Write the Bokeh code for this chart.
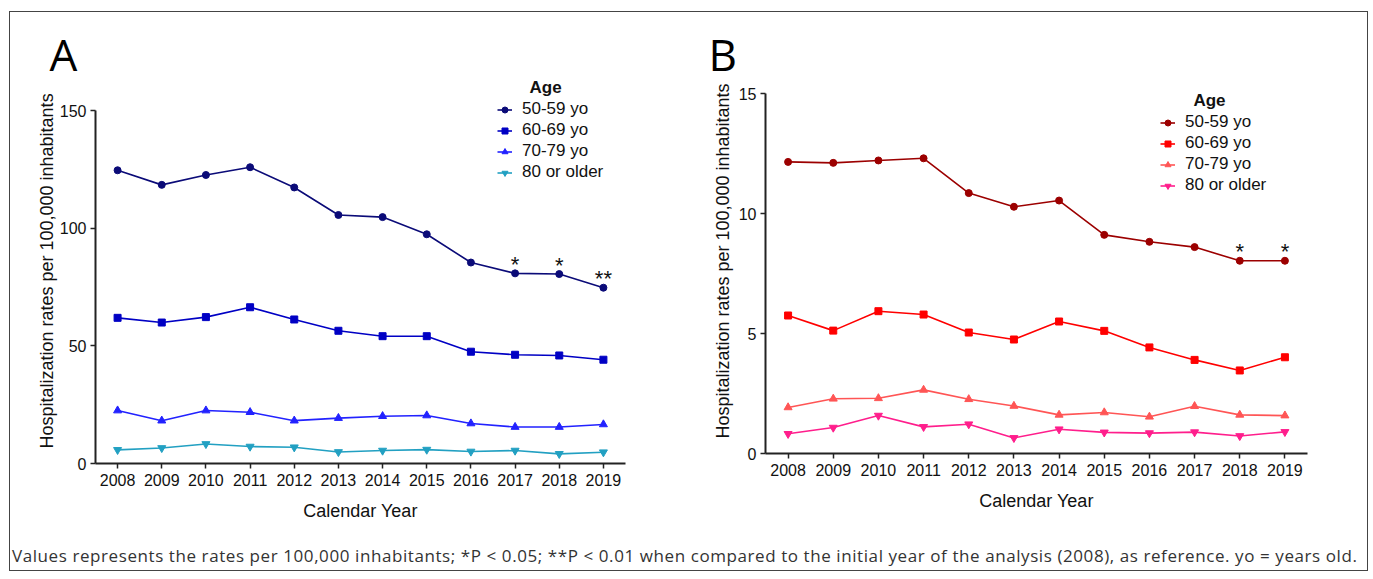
from bokeh.plotting import figure
from bokeh.models import Legend, LegendItem, Label, FixedTicker, Div
from bokeh.layouts import column, row
from bokeh.embed import file_html
from bokeh.resources import INLINE
from bokeh.core.properties import value

years = [2008, 2009, 2010, 2011, 2012, 2013, 2014, 2015, 2016, 2017, 2018, 2019]
groups = ["50-59 yo", "60-69 yo", "70-79 yo", "80 or older"]

a_50_59 = [124.6, 118.4, 122.6, 125.9, 117.3, 105.6, 104.7, 97.4, 85.4, 80.8, 80.5, 74.7]
a_60_69 = [61.9, 59.9, 62.2, 66.4, 61.2, 56.4, 54.1, 54.1, 47.5, 46.2, 45.9, 44.1]
a_70_79 = [22.5, 18.2, 22.5, 21.8, 18.2, 19.3, 20.1, 20.4, 17.0, 15.5, 15.5, 16.6]
a_80_plus = [5.8, 6.6, 8.3, 7.2, 6.9, 4.9, 5.5, 5.9, 5.1, 5.5, 4.1, 4.8]

b_50_59 = [12.15, 12.11, 12.21, 12.30, 10.85, 10.28, 10.54, 9.11, 8.82, 8.60, 8.03, 8.03]
b_60_69 = [5.75, 5.12, 5.93, 5.79, 5.04, 4.75, 5.50, 5.11, 4.42, 3.90, 3.46, 4.01]
b_70_79 = [1.92, 2.28, 2.30, 2.65, 2.26, 1.98, 1.61, 1.71, 1.53, 1.97, 1.61, 1.58]
b_80_plus = [0.82, 1.08, 1.58, 1.11, 1.22, 0.65, 1.01, 0.88, 0.85, 0.89, 0.73, 0.90]

a_sig_years = [2017, 2018, 2019]
a_sig_marks = ["*", "*", "**"]
b_sig_years = [2018, 2019]
b_sig_marks = ["*", "*"]

a_ticks = [0, 50, 100, 150]
b_ticks = [0, 5, 10, 15]

x_title = "Calendar Year"
y_title = "Hospitalization rates per 100,000 inhabitants"
caption = ("Values represents the rates per 100,000 inhabitants; *P < 0.05; **P < 0.01 when compared "
           "to the initial year of the analysis (2008), as reference. yo = years old.")

colors_a = ["#0b0b78", "#0000c4", "#2222ff", "#22a0c2"]
colors_b = ["#9c0000", "#ff0000", "#ff5555", "#ff1e8c"]
markers = ["circle", "square", "triangle", "inverted_triangle"]
msizes = [7, 7, 8, 8]

FONT = "Liberation Sans"
INK = "#111111"


def panel(letter, series, colors, ticks, yrange, width, bl, br, top_margin,
          sig_years, sig_marks, sig_series, title_offset, title_standoff,
          age_xy, leg_xy, ylab_standoff):
    p = figure(width=width, height=520, output_backend="svg", toolbar_location=None,
               x_range=(2007.5, 2019.5), y_range=yrange, margin=(top_margin, 0, 0, 0),
               min_border_left=bl, min_border_right=br, min_border_top=56, min_border_bottom=79)
    p.outline_line_color = None
    p.xgrid.visible = False
    p.ygrid.visible = False
    p.background_fill_color = "white"
    p.border_fill_color = "white"

    p.title.text = letter
    p.title.text_font = "Open Sans"
    p.title.text_font_size = "44px"
    p.title.text_font_style = "normal"
    p.title.text_color = "#000000"
    p.title.align = "left"
    p.title.offset = title_offset
    p.title.standoff = title_standoff

    items = []
    for name, vals, c, m, s in zip(groups, series, colors, markers, msizes):
        ln = p.line(years, vals, line_color=c, line_width=1.6)
        sc = p.scatter(years, vals, marker=m, size=s, fill_color=c, line_color=c)
        items.append(LegendItem(label=name, renderers=[ln, sc]))

    sig_y = [sig_series[years.index(yr)] for yr in sig_years]
    p.text(sig_years, sig_y, text=sig_marks, text_font=value(FONT), text_font_size="22px",
           text_color=INK, text_align="center", text_baseline="middle", y_offset=-9)

    leg = Legend(items=items, location=leg_xy, padding=0, margin=0, spacing=1,
                 glyph_width=15, glyph_height=19, label_height=19, label_standoff=10,
                 label_text_font=FONT, label_text_font_size="17px", label_text_color=INK,
                 background_fill_alpha=0, border_line_color=None)
    p.add_layout(leg, "center")

    p.add_layout(Label(x=age_xy[0], y=age_xy[1], text="Age", text_font=FONT, text_font_size="17px",
                       text_font_style="bold", text_color=INK, text_align="center",
                       text_baseline="middle"))

    for ax in (p.xaxis[0], p.yaxis[0]):
        ax.axis_line_width = 2
        ax.axis_line_color = "#222222"
        ax.major_tick_line_color = "#222222"
        ax.major_tick_line_width = 1.5
        ax.major_tick_out = 5
        ax.major_tick_in = 0
        ax.minor_tick_line_color = None
        ax.major_label_text_font = FONT
        ax.major_label_text_font_size = "16px"
        ax.major_label_text_color = INK
        ax.axis_label_text_font = FONT
        ax.axis_label_text_font_size = "18px"
        ax.axis_label_text_font_style = "normal"
        ax.axis_label_text_color = INK
    p.xaxis.ticker = FixedTicker(ticks=years)
    p.xaxis.axis_label = x_title
    p.xaxis.major_label_standoff = 5
    p.xaxis.axis_label_standoff = 12
    yax = p.yaxis[0]
    yax.ticker = FixedTicker(ticks=ticks)
    yax.bounds = (ticks[0], ticks[-1])
    yax.axis_label = y_title
    yax.major_label_standoff = 4
    yax.axis_label_standoff = ylab_standoff
    return p


pa = panel("A", [a_50_59, a_60_69, a_70_79, a_80_plus], colors_a, a_ticks, (0, 163.6),
           680, 85, 65, 10, a_sig_years, a_sig_marks, a_50_59, -46, -10,
           (2017.69, 159.8), (402, 281), 0)
pb = panel("B", [b_50_59, b_60_69, b_70_79, b_80_plus], colors_b, b_ticks, (0, 16.0417),
           677, 75, 60, 0, b_sig_years, b_sig_marks, b_50_59, -57, -30,
           (2017.33, 14.71), (395, 258), 3)

cap = Div(text=caption, width=1357, height=28, margin=0,
          styles={"font-family": "Open Sans", "font-size": "17px", "letter-spacing": "0.58px",
                  "color": "#333333", "line-height": "28px", "padding-left": "2px",
                  "white-space": "nowrap"})

layout = column(row(pa, pb, margin=0), cap, margin=(11, 0, 0, 9),
                styles={"border": "1px solid #444444"})

open("out.html", "w").write(file_html(layout, INLINE))
